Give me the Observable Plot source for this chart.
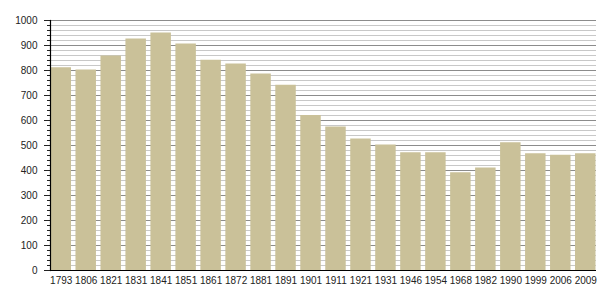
<!DOCTYPE html>
<html>
<head>
<meta charset="utf-8">
<script src="https://cdn.jsdelivr.net/npm/d3@7"></script>
<script src="https://cdn.jsdelivr.net/npm/@observablehq/plot@0.6"></script>
<style>
  body { margin: 0; background: #fff; }
  #chart svg { display: block; }
</style>
</head>
<body>
<div id="chart"></div>
<script>
const years = ["1793","1806","1821","1831","1841","1851","1861","1872","1881","1891","1901","1911","1921","1931","1946","1954","1968","1982","1990","1999","2006","2009"];
const population = [811, 802, 858, 926, 950, 906, 841, 826, 786, 741, 620, 574, 526, 502, 471, 471, 391, 410, 511, 467, 461, 467];
const majorTicks = [0, 100, 200, 300, 400, 500, 600, 700, 800, 900, 1000];
const minorTicks = d3.range(0, 1001, 20).filter(v => v % 100 !== 0);

const data = years.map((y, i) => ({year: y, value: population[i]}));

const chart = Plot.plot({
  width: 605,
  height: 300,
  marginLeft: 50,
  marginRight: 9,
  marginTop: 20,
  marginBottom: 30,
  style: {fontFamily: "'Liberation Sans', Arial, sans-serif", fontSize: "10px", color: "#222", background: "#fff"},
  x: {domain: years, paddingInner: 0.18, paddingOuter: 0.02, align: 0.5, round: false, label: null},
  y: {domain: [0, 1000], label: null},
  marks: [
    Plot.gridY(minorTicks, {stroke: "#c8c8c8", strokeOpacity: 1}),
    Plot.gridY(majorTicks, {stroke: "#8c8c8c", strokeOpacity: 1}),
    Plot.barY(data, {x: "year", y: "value", fill: "#cac199"}),
    Plot.axisY(minorTicks, {tickSize: 3, text: null, stroke: "#222"}),
    Plot.axisY(majorTicks, {tickSize: 6, tickPadding: 7, tickFormat: d => String(d), stroke: "#222", fill: "#222"}),
    Plot.axisX({tickSize: 0, tickPadding: 6, fill: "#222"}),
    Plot.ruleY([0], {stroke: "#000", strokeWidth: 1.2}),
    Plot.frame({anchor: "left", stroke: "#000", strokeWidth: 1.2})
  ]
});
document.getElementById("chart").appendChild(chart);
</script>
</body>
</html>
